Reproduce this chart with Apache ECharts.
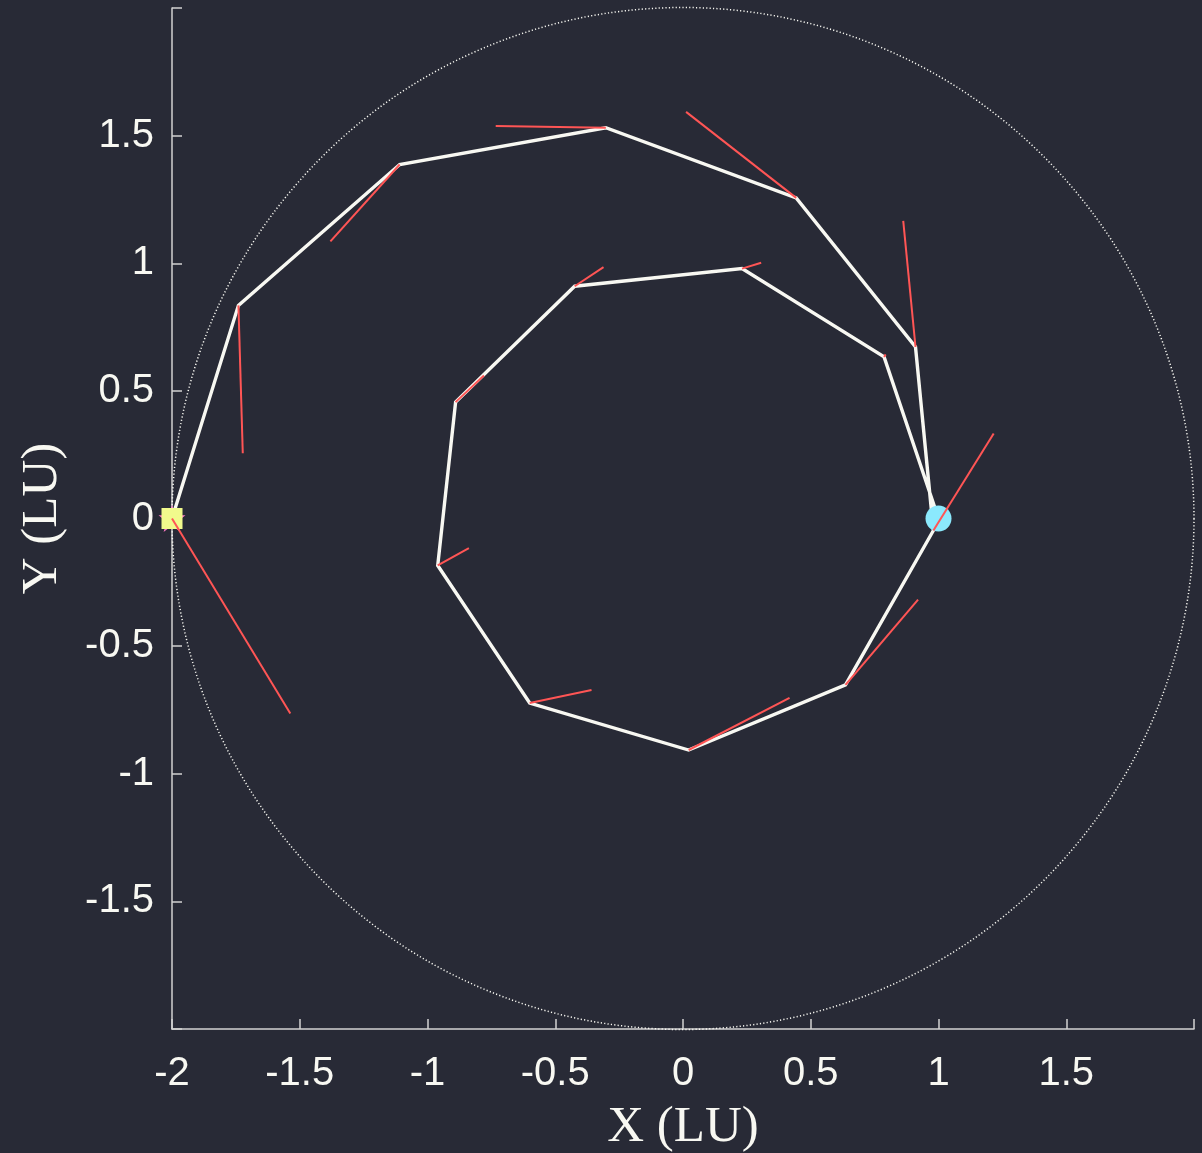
<!DOCTYPE html>
<html>
<head>
<meta charset="utf-8">
<script src="https://cdn.jsdelivr.net/npm/echarts@6/dist/echarts.min.js"></script>
<style>
html,body{margin:0;padding:0;background:#282a36;}
#chart{width:1202px;height:1153px;}
</style>
</head>
<body>
<div id="chart"></div>
<script>
// Trajectory nodes (LU)
const pathX = [-2.000, -1.740, -1.109, -0.302, 0.443, 0.910, 0.980, 0.636, 0.022, -0.600, -0.960, -0.890, -0.424, 0.231, 0.787, 1.000];
const pathY = [0.000, 0.835, 1.387, 1.531, 1.256, 0.672, -0.047, -0.652, -0.907, -0.723, -0.184, 0.456, 0.910, 0.979, 0.633, 0.000];
// Control (thrust) vectors at each node except the last
const thrustDX = [0.463, 0.017, -0.271, -0.431, -0.431, -0.048, 0.236, 0.284, 0.395, 0.242, 0.122, 0.111, 0.113, 0.075, 0.006];
const thrustDY = [-0.764, -0.579, -0.301, 0.007, 0.337, 0.494, 0.380, 0.334, 0.204, 0.051, 0.068, 0.104, 0.075, 0.023, 0.010];
// Boundary circle: center and radius
const boundary = [[0, 0, 2]];
// Axis ticks
const axisMin = -2, axisMax = 2, axisStep = 0.5;
const hiddenXLabels = [2];
const hiddenYLabels = [-2, 2];

const FG = '#f8f8f2';
const AXIS = '#d2d2d2';

const chart = echarts.init(document.getElementById('chart'));

const pathData = pathX.map((x, i) => [x, pathY[i]]);
const thrustData = thrustDX.map((dx, i) => [pathX[i], pathY[i], pathX[i] + dx, pathY[i] + thrustDY[i]]);
const last = pathX.length - 1;

const starPath = 'path://M50,0 L61.8,35.1 L98.1,35.1 L68.8,56.8 L79.9,91.9 L50,70.2 L20.1,91.9 L31.2,56.8 L1.9,35.1 L38.2,35.1 Z';

function axisCommon(hidden) {
  return {
    type: 'value',
    min: axisMin,
    max: axisMax,
    interval: axisStep,
    splitLine: { show: false },
    axisLine: { onZero: false, lineStyle: { color: AXIS, width: 1.5 } },
    axisTick: { inside: true, length: 10, lineStyle: { color: AXIS, width: 1.5 } },
    axisLabel: {
      color: FG,
      fontFamily: 'Liberation Sans',
      fontSize: 40,
      formatter: function (v) {
        return hidden.some(h => Math.abs(h - v) < 1e-9) ? '' : String(v);
      }
    },
    nameLocation: 'middle',
    nameTextStyle: { color: FG, fontFamily: 'Liberation Serif', fontSize: 51 }
  };
}

const xAxis = axisCommon(hiddenXLabels);
xAxis.name = 'X (LU)';
xAxis.nameGap = 73;
xAxis.axisLabel.margin = 25;

const yAxis = axisCommon(hiddenYLabels);
yAxis.name = 'Y (LU)';
yAxis.nameGap = 104;
yAxis.nameRotate = 90;
yAxis.axisLabel.margin = 18;

chart.setOption({
  backgroundColor: '#282a36',
  animation: false,
  grid: { left: 172, right: 8, top: 8, bottom: 124, containLabel: false, outerBoundsMode: 'none' },
  xAxis: xAxis,
  yAxis: yAxis,
  series: [
    {
      type: 'custom',
      z: 1,
      clip: false,
      data: boundary,
      encode: { x: 0, y: 1 },
      renderItem: function (params, api) {
        const c = api.coord([api.value(0), api.value(1)]);
        const r = api.size([api.value(2), 0])[0];
        return {
          type: 'circle',
          shape: { cx: c[0], cy: c[1], r: r },
          style: { fill: null, stroke: FG, lineWidth: 1.5, lineDash: [1.2, 2.2] }
        };
      }
    },
    {
      type: 'line',
      z: 2,
      data: pathData,
      symbol: 'none',
      lineStyle: { color: FG, width: 3.4, join: 'miter' }
    },
    {
      type: 'scatter',
      z: 3,
      data: [pathData[0]],
      symbol: starPath,
      symbolSize: 27,
      itemStyle: { color: '#ff79c6', opacity: 1 }
    },
    {
      type: 'scatter',
      z: 4,
      data: [pathData[0]],
      symbol: 'rect',
      symbolSize: 21,
      itemStyle: { color: '#f1fa8c', opacity: 1 }
    },
    {
      type: 'scatter',
      z: 4,
      data: [pathData[last]],
      symbol: 'circle',
      symbolSize: 26,
      itemStyle: { color: '#8be9fd', opacity: 1 }
    },
    {
      type: 'custom',
      z: 6,
      data: thrustData,
      encode: { x: [0, 2], y: [1, 3] },
      renderItem: function (params, api) {
        const p0 = api.coord([api.value(0), api.value(1)]);
        const p1 = api.coord([api.value(2), api.value(3)]);
        return {
          type: 'line',
          shape: { x1: p0[0], y1: p0[1], x2: p1[0], y2: p1[1] },
          style: { stroke: '#ff5555', lineWidth: 2 }
        };
      }
    }
  ]
});
</script>
</body>
</html>
